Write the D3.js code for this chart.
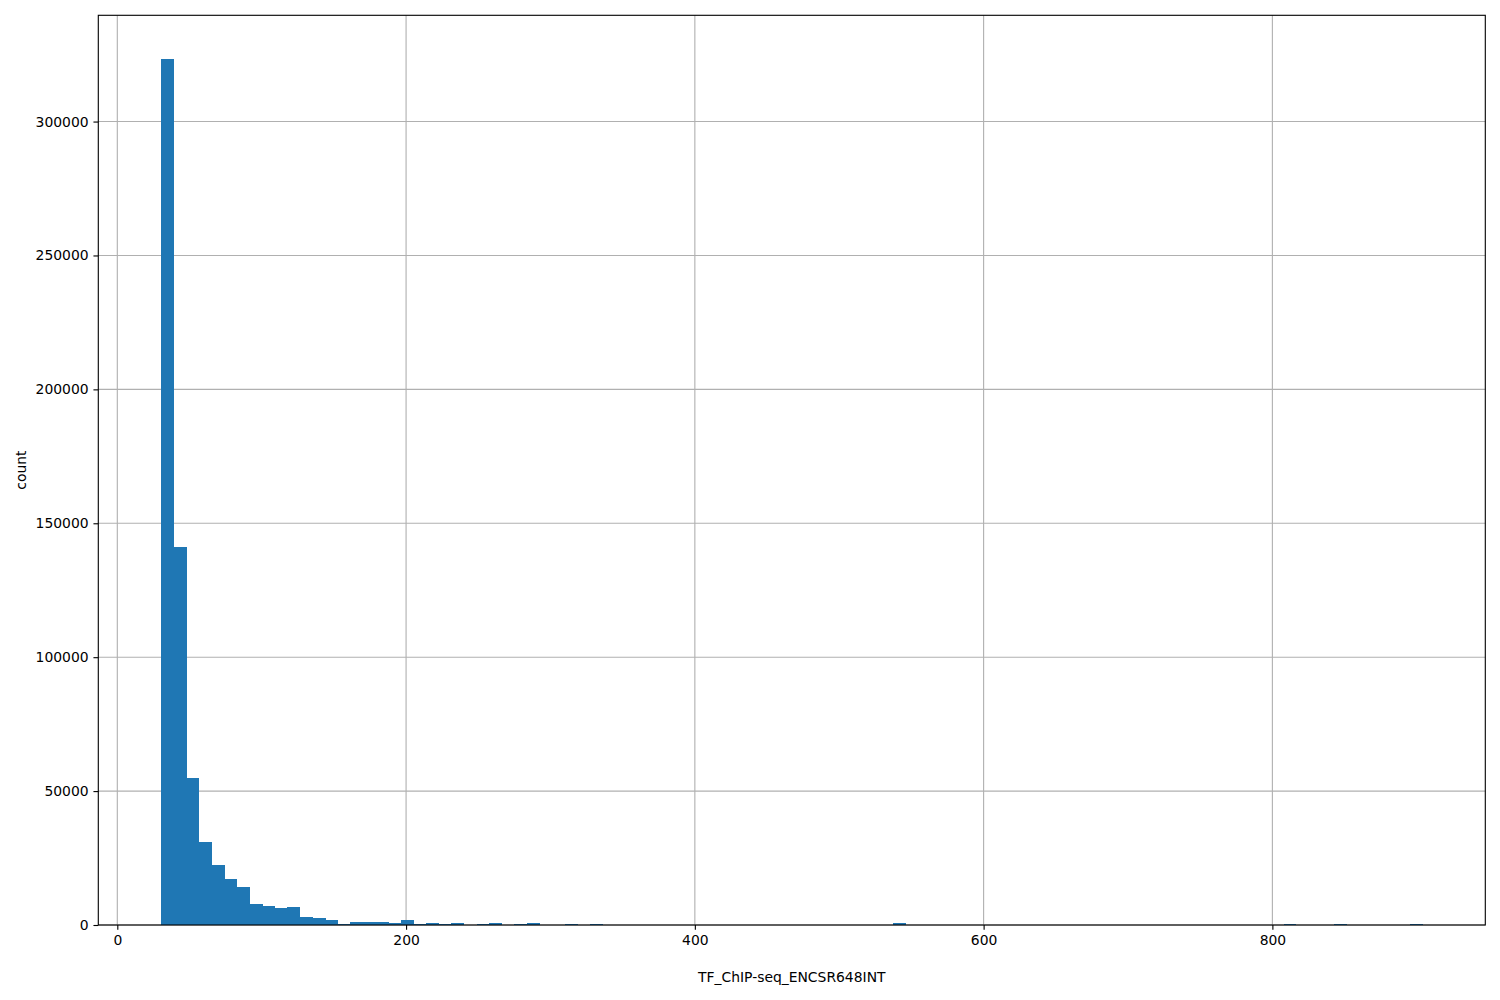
<!DOCTYPE html>
<html>
<head>
<meta charset="utf-8">
<script src="https://cdn.jsdelivr.net/npm/d3@7"></script>
<style>
  html, body { margin: 0; padding: 0; background: #fff; }
  svg text { font-family: "DejaVu Sans", sans-serif; }
</style>
</head>
<body>
<svg id="chart" width="1500" height="1000"></svg>
<script>
// Histogram range and counts (100 equal-width bins)
const histRange = [30.5, 903.8];
const counts = [
  323500, 141100, 54850, 30970, 22390, 17160, 14180, 7840, 7090, 6340,
  6700, 2990, 2610, 1870, 370, 1120, 1120, 1120, 750, 1870,
  370, 750, 370, 750, 0, 370, 750, 0, 370, 750,
  0, 0, 370, 0, 370, 0, 0, 0, 0, 0,
  0, 0, 0, 0, 0, 0, 0, 0, 0, 0,
  0, 0, 0, 0, 0, 0, 0, 0, 750, 0,
  0, 0, 0, 0, 0, 0, 0, 0, 0, 0,
  0, 0, 0, 0, 0, 0, 0, 0, 0, 0,
  0, 0, 0, 0, 0, 0, 0, 0, 0, 370,
  0, 0, 0, 370, 0, 0, 0, 0, 0, 370
];
const xTicks = [0, 200, 400, 600, 800];
const yTicks = [0, 50000, 100000, 150000, 200000, 250000, 300000];
const xLabel = "TF_ChIP-seq_ENCSR648INT";
const yLabel = "count";

const svg = d3.select("#chart");
const L = 98.3, R = 1485.3, T = 15.3, B = 925;
const nBins = counts.length;
const bw = (histRange[1] - histRange[0]) / nBins;
const bins = counts.map((c, i) => ({x0: histRange[0] + i * bw, x1: histRange[0] + (i + 1) * bw, c}));

const span = histRange[1] - histRange[0];
const x = d3.scaleLinear()
  .domain([histRange[0] - 0.05 * span, histRange[1] + 0.05 * span])
  .range([L, R]);
const y = d3.scaleLinear()
  .domain([0, d3.max(counts) * 1.05])
  .range([B, T]);

const lw = 1.11;
const tickLen = 4.86;
const fs = "13.9px";

// grid
const grid = svg.append("g");
grid.selectAll("line.gx").data(xTicks).join("line")
  .attr("x1", d => x(d)).attr("x2", d => x(d))
  .attr("y1", T).attr("y2", B)
  .attr("stroke", "#b0b0b0").attr("stroke-width", lw);
grid.selectAll("line.gy").data(yTicks).join("line")
  .attr("x1", L).attr("x2", R)
  .attr("y1", d => y(d)).attr("y2", d => y(d))
  .attr("stroke", "#b0b0b0").attr("stroke-width", lw);

// bars
svg.append("g").attr("shape-rendering", "crispEdges")
  .selectAll("rect").data(bins.filter(b => b.c > 0)).join("rect")
  .attr("x", d => x(d.x0))
  .attr("width", d => x(d.x1) - x(d.x0) + 0.3)
  .attr("y", d => y(d.c))
  .attr("height", d => y(0) - y(d.c))
  .attr("fill", "#1f77b4");

// axes
const xAxis = svg.append("g").attr("transform", `translate(0,${B})`)
  .call(d3.axisBottom(x).tickValues(xTicks).tickFormat(d3.format("d"))
    .tickSizeInner(tickLen).tickSizeOuter(0).tickPadding(4.86));
const yAxis = svg.append("g").attr("transform", `translate(${L},0)`)
  .call(d3.axisLeft(y).tickValues(yTicks).tickFormat(d3.format("d"))
    .tickSizeInner(tickLen).tickSizeOuter(0).tickPadding(4.86));
[xAxis, yAxis].forEach(g => {
  g.select(".domain").remove();
  g.selectAll(".tick line").attr("stroke", "#000").attr("stroke-width", lw);
  g.selectAll(".tick text").attr("fill", "#000")
    .style("font-size", fs).style("font-family", "DejaVu Sans, sans-serif");
});

// spines
svg.append("rect")
  .attr("x", L).attr("y", T).attr("width", R - L).attr("height", B - T)
  .attr("fill", "none").attr("stroke", "#000").attr("stroke-width", lw);

// labels
svg.append("text")
  .attr("x", (L + R) / 2).attr("y", 982)
  .attr("text-anchor", "middle")
  .style("font-size", fs)
  .text(xLabel);
svg.append("text")
  .attr("transform", `translate(25.5,${(T + B) / 2}) rotate(-90)`)
  .attr("text-anchor", "middle")
  .style("font-size", fs)
  .text(yLabel);
</script>
</body>
</html>
